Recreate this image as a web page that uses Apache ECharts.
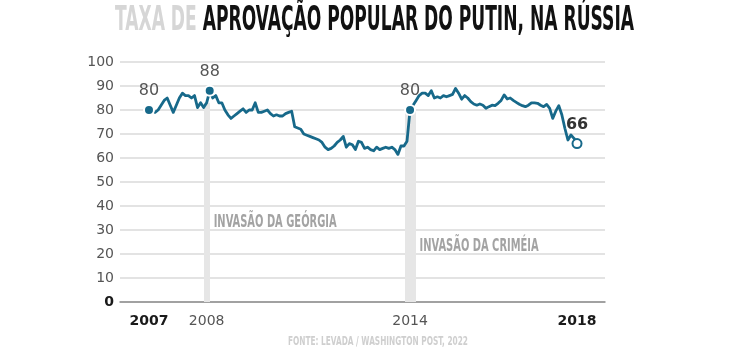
<!DOCTYPE html>
<html><head><meta charset="utf-8">
<script src="https://cdn.jsdelivr.net/npm/echarts@6/dist/echarts.min.js"></script>
<style>html,body{margin:0;padding:0;background:#fff}#c{width:740px;height:350px}</style>
</head><body><div id="c"></div>
<script>
// ---- text ----
const titleLight = 'TAXA DE ';
const titleDark = 'APROVAÇÃO POPULAR DO PUTIN, NA RÚSSIA';
const sourceText = 'FONTE: LEVADA / WASHINGTON POST, 2022';

// ---- data: monthly approval (%), Jan 2007 .. Oct 2018 ----
const approval = [
  80, 80, 79, 80, 82, 84, 85, 82, 79, 82, 85, 87,
  86, 86, 85, 86, 81, 83, 81, 83, 88, 85, 86, 83,
  83, 80, 78, 76.5, 77.5, 78.5, 79.5, 80.5, 79, 80, 80, 83,
  79, 79, 79.5, 80, 78.5, 77.5, 78, 77.5, 77.5, 78.5, 79, 79.5,
  73, 72.5, 72, 70, 69.5, 69, 68.5, 68, 67.5, 66.5, 64.5, 63.5,
  64, 65, 66.5, 67.5, 69, 64.5, 66, 65.5, 63.5, 67, 66.5, 64,
  64.5, 63.5, 63, 64.5, 63.5, 64, 64.5, 64, 64.5, 63.5, 61.5, 65,
  65, 67, 80, 82, 84, 86, 87, 87, 86, 88, 85, 85.5,
  85, 86, 85.5, 86, 86.5, 89, 87, 84.5, 86, 85, 83.5, 82.5,
  82, 82.5, 82, 80.7, 81.4, 82, 81.8, 82.8, 84, 86.3, 84.6, 85,
  84, 83.2, 82.4, 81.8, 81.4, 82, 83, 83, 82.8, 82, 81.4, 82.3,
  80.7, 76.5, 79.5, 81.8, 78, 72.4, 67.5, 69.6, 68.2, 66
];
// x tick labels (month index from Jan 2007)
const xTickMonths = [0, 19, 86, 141];
const xTickLabels = ['2007', '2008', '2014', '2018'];
const xTickBold = [true, false, false, true];
// highlighted points
const highlightMonths = [0, 20, 86, 141];
// events
const eventMonths = [19, 86];
const eventNames = ['INVASÃO DA GEÓRGIA', 'INVASÃO DA CRIMÉIA'];
const eventLabelLevels = [33.3, 23];

// ---- styles ----
const teal = '#17698a';
const bandWidths = [6, 11];
const condFamily = '"Liberation Sans Narrow", "DejaVu Sans Condensed", "Liberation Sans", sans-serif';

const chart = echarts.init(document.getElementById('c'), null, {renderer: 'canvas'});
const lineData = approval.map((v, i) => [i, v]);

const option = {
  animation: false,
  grid: {left: 120, right: 135, top: 62, bottom: 48},
  xAxis: {
    type: 'value', min: -9.55, max: 150.22,
    splitLine: {show: false},
    axisTick: {show: false},
    axisLine: {show: true, onZero: false, lineStyle: {color: '#8c8c8c', width: 1.5}},
    axisLabel: {
      customValues: xTickMonths, margin: 12,
      formatter: function (v) {
        const k = xTickMonths.indexOf(Math.round(v));
        if (k < 0) return '';
        return (xTickBold[k] ? '{b|' : '{n|') + xTickLabels[k] + '}';
      },
      rich: {
        b: {fontFamily: 'DejaVu Sans', fontWeight: 'bold', fontSize: 14, color: '#1a1a1a'},
        n: {fontFamily: 'DejaVu Sans', fontSize: 14, color: '#555'}
      }
    }
  },
  yAxis: {
    type: 'value', min: 0, max: 100, interval: 10,
    axisLine: {show: false}, axisTick: {show: false},
    splitLine: {lineStyle: {color: '#e3e3e3', width: 2}},
    axisLabel: {
      margin: 6,
      formatter: v => v === 0 ? '{z|0}' : '{n|' + v + '}',
      rich: {
        z: {fontFamily: 'DejaVu Sans', fontWeight: 'bold', fontSize: 14, color: '#1a1a1a'},
        n: {fontFamily: 'DejaVu Sans', fontSize: 14, color: '#555'}
      }
    }
  },
  series: [
    {
      type: 'line', z: 1, silent: true,
      data: eventMonths.map(m => [m, approval[m]]),
      symbol: 'none', lineStyle: {opacity: 0},
      markLine: {
        silent: true, symbol: 'none', animation: false, z: 1,
        label: {show: false},
        data: eventMonths.map((m, k) => [
          {coord: [m, 0], lineStyle: {color: '#e6e6e6', width: bandWidths[k], type: 'solid', opacity: 1}},
          {coord: [m, approval[m]]}
        ])
      }
    },
    {
      type: 'line', z: 3, data: lineData, symbol: 'none', showSymbol: false,
      lineStyle: {color: teal, width: 2.8, join: 'round'}
    },
    {
      type: 'scatter', z: 4,
      data: highlightMonths.map((m, k) => {
        const last = k === highlightMonths.length - 1;
        return {
          value: [m, approval[m]],
          symbolSize: last ? 9 : 10,
          itemStyle: last ? {color: '#fff', borderColor: teal, borderWidth: 2, opacity: 1}
                          : {color: teal, borderColor: '#fff', borderWidth: 2, opacity: 1},
          label: last ? {fontWeight: 'bold', color: '#333'} : {}
        };
      }),
      itemStyle: {opacity: 1},
      label: {
        show: true, position: 'top', distance: 5,
        fontFamily: 'DejaVu Sans', fontSize: 16, color: '#555',
        formatter: p => String(p.value[1])
      }
    }
  ]
};
chart.setOption(option);

// ---- condensed texts (title, source, event labels) ----
const mctx = document.createElement('canvas').getContext('2d');
function measure(text, size, weight) {
  mctx.font = (weight || 'bold') + ' ' + size + 'px ' + condFamily;
  return mctx.measureText(text).width;
}
const titleSize = 34;
const wl = measure(titleLight, titleSize), wd = measure(titleDark, titleSize);
const titleScale = 519 / (wl + wd);
const srcSize = 13;
const srcScale = 180 / measure(sourceText, srcSize);
const evSize = 17;
const evScale = 123 / measure(eventNames[0], evSize);

const graphics = [
  {
    type: 'group', x: 115, y: 21, scaleX: titleScale,
    children: [
      {type: 'text', x: 0, y: 0, style: {text: titleLight, fontSize: titleSize, fontWeight: 'bold', fontFamily: condFamily, fill: '#d6d6d6', verticalAlign: 'middle'}},
      {type: 'text', x: wl, y: 0, style: {text: titleDark, fontSize: titleSize, fontWeight: 'bold', fontFamily: condFamily, fill: '#111', verticalAlign: 'middle'}}
    ]
  },
  {
    type: 'group', x: 378, y: 342, scaleX: srcScale,
    children: [
      {type: 'text', x: 0, y: 0, style: {text: sourceText, fontSize: srcSize, fontWeight: 'bold', fontFamily: condFamily, fill: '#cfcfcf', align: 'center', verticalAlign: 'middle'}}
    ]
  }
];
eventMonths.forEach((m, k) => {
  const p = chart.convertToPixel({gridIndex: 0}, [m, eventLabelLevels[k]]);
  graphics.push({
    type: 'group', x: p[0] + bandWidths[k] / 2 + 4, y: p[1], scaleX: evScale,
    children: [
      {type: 'text', x: 0, y: 0, style: {text: eventNames[k], fontSize: evSize, fontWeight: 'bold', fontFamily: condFamily, fill: '#a3a3a3', verticalAlign: 'middle'}}
    ]
  });
});
chart.setOption({graphic: graphics});
</script>
</body></html>
